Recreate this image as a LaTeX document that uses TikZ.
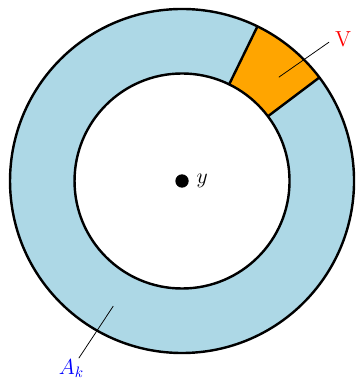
\documentclass[tikz,border=0pt]{standalone}
\usepackage{xcolor}
\definecolor{lightblue}{RGB}{173,216,230}
\definecolor{myorange}{RGB}{255,165,0}
\begin{document}
\begin{tikzpicture}[
  ring/.style={line width=1.6pt},
  pointer/.style={line width=0.5pt},
  lbl/.style={font=\Large, inner sep=1pt}
]
\useasboundingbox (-4.233,-4.651) rectangle (4.023,4.209);
\coordinate (O) at (0,0);
\fill[lightblue, even odd rule] (O) circle (4) (O) circle (2.5);
\fill[myorange] (37:2.5) -- (37:4) arc (37:64:4) -- (64:2.5) arc (64:37:2.5) -- cycle;
\draw[ring] (37:2.5) -- (37:4);
\draw[ring] (64:2.5) -- (64:4);
\draw[ring] (O) circle (4);
\draw[ring] (O) circle (2.5);
\fill (O) circle (0.155);
\node[lbl, anchor=west] (y) at (0.3,0) {$y$};
\coordinate (vin) at (47:3.3);
\coordinate (vout) at (3.42,3.23);
\node[lbl, text=red, anchor=west] (V) at (3.52,3.3) {V};
\draw[pointer] (vin) -- (vout);
\coordinate (ain) at (-1.6,-2.91);
\coordinate (aout) at (-2.4,-4.12);
\node[lbl, text=blue] (A) at (-2.57,-4.36) {$A_k$};
\draw[pointer] (ain) -- (aout);
\end{tikzpicture}
\end{document}
